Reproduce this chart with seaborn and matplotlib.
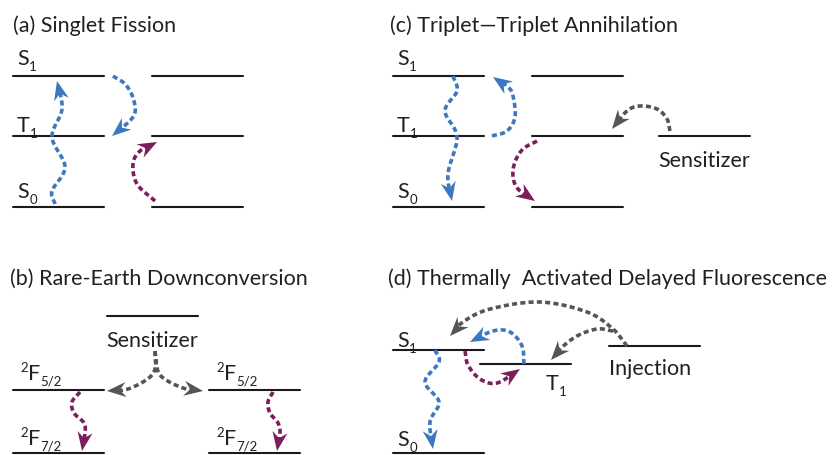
import numpy as np
import pandas as pd
import matplotlib.pyplot as plt
import seaborn as sns

BLUE = '#3b78bd'
PURPLE = '#7c1e5c'
GRAY = '#555555'
INK = '#231f20'

# ---- energy levels (pixel space, y grows downward) ----
level_names = ['a_S1_l', 'a_S1_r', 'a_T1_l', 'a_T1_r', 'a_S0_l', 'a_S0_r',
               'c_S1_l', 'c_S1_r', 'c_T1_l', 'c_T1_r', 'c_sens', 'c_S0_l', 'c_S0_r',
               'b_sens', 'b_F52_l', 'b_F52_r', 'b_F72_l', 'b_F72_r',
               'd_S1', 'd_T1', 'd_inj', 'd_S0']
level_x0 = [13, 152, 13, 152, 13, 152,
            393, 532, 393, 532, 659, 393, 532,
            107, 13, 209, 13, 209,
            393, 480, 609, 393]
level_x1 = [104, 243, 104, 243, 104, 243,
            484, 623, 484, 623, 750, 484, 623,
            198, 104, 300, 104, 300,
            484, 571, 700, 484]
level_y = [77, 77, 137, 137, 208, 208,
           77, 77, 137, 137, 137, 208, 208,
           317, 391, 391, 454, 454,
           351, 365, 347, 454]

# ---- panel titles ----
titles = ['(a) Singlet Fission', '(c) Triplet\u2014Triplet Annihilation',
          '(b) Rare-Earth Downconversion', '(d) Thermally  Activated Delayed Fluorescence']
title_x = [13, 390, 10, 388]
title_y = [32, 32, 285, 285]

# ---- level labels: main text, subscript, superscript ----
label_main = ['S', 'T', 'S', 'S', 'T', 'S', 'Sensitizer',
              'Sensitizer', 'F', 'F', 'F', 'F',
              'S', 'T', 'Injection', 'S']
label_sub = ['1', '1', '0', '1', '1', '0', '',
             '', '5/2', '5/2', '7/2', '7/2',
             '1', '1', '', '0']
label_sup = ['', '', '', '', '', '', '',
             '', '2', '2', '2', '2',
             '', '', '', '']
label_x = [17, 17, 17, 397, 397, 397, 658,
           106, 20, 216, 20, 216,
           397, 546, 609, 397]
label_y = [65, 132, 198, 65, 132, 198, 167,
           347, 380, 380, 445, 445,
           347, 390, 375, 446]

# ---- transfer arrows: waypoints from start to tip ----
arrow_paths = [
    [(55, 205), (52, 192), (65, 168), (52, 138), (62, 110), (57, 82)],
    [(113, 77), (126, 86), (134, 102), (133, 118), (112, 137)],
    [(155, 202), (137, 185), (133, 165), (140, 152), (157, 143)],
    [(453, 77), (457, 92), (445, 112), (457, 138), (448, 175), (452, 202)],
    [(492, 137), (507, 132), (515, 118), (513, 97), (508, 88), (493, 78)],
    [(537, 142), (523, 150), (515, 163), (513, 177), (518, 190), (535, 202)],
    [(670, 132), (667, 120), (657, 110), (640, 107), (627, 112), (612, 130)],
    [(155, 352), (156, 365), (150, 378), (128, 390), (107, 392)],
    [(155, 352), (156, 365), (162, 378), (183, 389), (203, 392)],
    [(80, 393), (72, 403), (74, 414), (84, 424), (85, 434), (82, 452)],
    [(273, 393), (268, 403), (270, 414), (278, 424), (280, 434), (277, 452)],
    [(627, 347), (613, 330), (587, 313), (540, 303), (490, 310), (463, 323), (450, 337)],
    [(613, 332), (597, 330), (577, 337), (560, 350), (551, 361)],
    [(435, 351), (439, 363), (425, 383), (439, 403), (430, 423), (433, 450)],
    [(524, 365), (522, 347), (510, 333), (493, 332), (470, 343)],
    [(465, 352), (468, 366), (480, 380), (497, 384), (520, 370)],
]
arrow_colors = [BLUE, BLUE, PURPLE, BLUE, BLUE, PURPLE, GRAY, GRAY, GRAY,
                PURPLE, PURPLE, GRAY, GRAY, BLUE, BLUE, PURPLE]


def smooth(pts, n=24):
    p = np.array(pts, float)
    p = np.vstack([2 * p[0] - p[1], p, 2 * p[-1] - p[-2]])
    out = []
    t = np.linspace(0, 1, n, endpoint=False)[:, None]
    for i in range(1, len(p) - 2):
        p0, p1, p2, p3 = p[i - 1], p[i], p[i + 1], p[i + 2]
        out.append(0.5 * (2 * p1 + (p2 - p0) * t + (2 * p0 - 5 * p1 + 4 * p2 - p3) * t ** 2
                          + (3 * p1 - p0 - 3 * p2 + p3) * t ** 3))
    out.append(p[-2][None])
    return np.vstack(out)


def draw_arrow(ax, pts, color, L=19, W=7.5):
    c = smooth(pts)
    rev = c[::-1]
    dist = np.r_[0, np.cumsum(np.hypot(*np.diff(rev, axis=0).T))]
    tip = rev[0]
    back = rev[min(np.searchsorted(dist, L), len(rev) - 1)]
    u = (tip - back) / np.hypot(*(tip - back))
    nrm = np.array([-u[1], u[0]])
    base = tip - u * L
    head = np.array([tip, base + nrm * W, tip - u * L * 0.68, base - nrm * W])
    line = rev[dist >= L * 0.6][::-1]
    ax.plot(line[:, 0], line[:, 1], color=color, lw=2.6,
            dashes=(1.4, 0.9), dash_capstyle='butt', zorder=3)
    ax.fill(head[:, 0], head[:, 1], color=color, lw=0, zorder=4)


def level_label(ax, r, x, y, main, sub, sup, size=15.5, small=9.5):
    if sup:
        t = ax.text(x, y - 8, sup, fontsize=small, color=INK, va='baseline')
        x += t.get_window_extent(r).width
    t = ax.text(x, y, main, fontsize=size, color=INK, va='baseline')
    if sub:
        x += t.get_window_extent(r).width + 0.5
        ax.text(x, y + 6, sub, fontsize=small, color=INK, va='baseline')


sns.set_theme(style='white')
plt.rcParams['font.family'] = ['Lato', 'DejaVu Sans']

fig = plt.figure(figsize=(8.32, 4.56), dpi=100)
ax = fig.add_axes([0, 0, 1, 1])
ax.set_xlim(0, 832)
ax.set_ylim(456, 0)
renderer = fig.canvas.get_renderer()

levels = pd.DataFrame({
    'level': level_names * 2,
    'x': level_x0 + level_x1,
    'y': level_y * 2,
})
sns.lineplot(data=levels, x='x', y='y', units='level', estimator=None,
             color='#1a1a1a', lw=1.5, ax=ax, zorder=2)

for pts, col in zip(arrow_paths, arrow_colors):
    draw_arrow(ax, pts, col)

for t, x, y in zip(titles, title_x, title_y):
    ax.text(x, y, t, fontsize=15.5, color=INK, ha='left', va='baseline')

for m, sb, sp, x, y in zip(label_main, label_sub, label_sup, label_x, label_y):
    level_label(ax, renderer, x, y, m, sb, sp)

ax.set_xlim(0, 832)
ax.set_ylim(456, 0)
ax.axis('off')

fig.savefig('out.png', dpi=100, facecolor='white')
